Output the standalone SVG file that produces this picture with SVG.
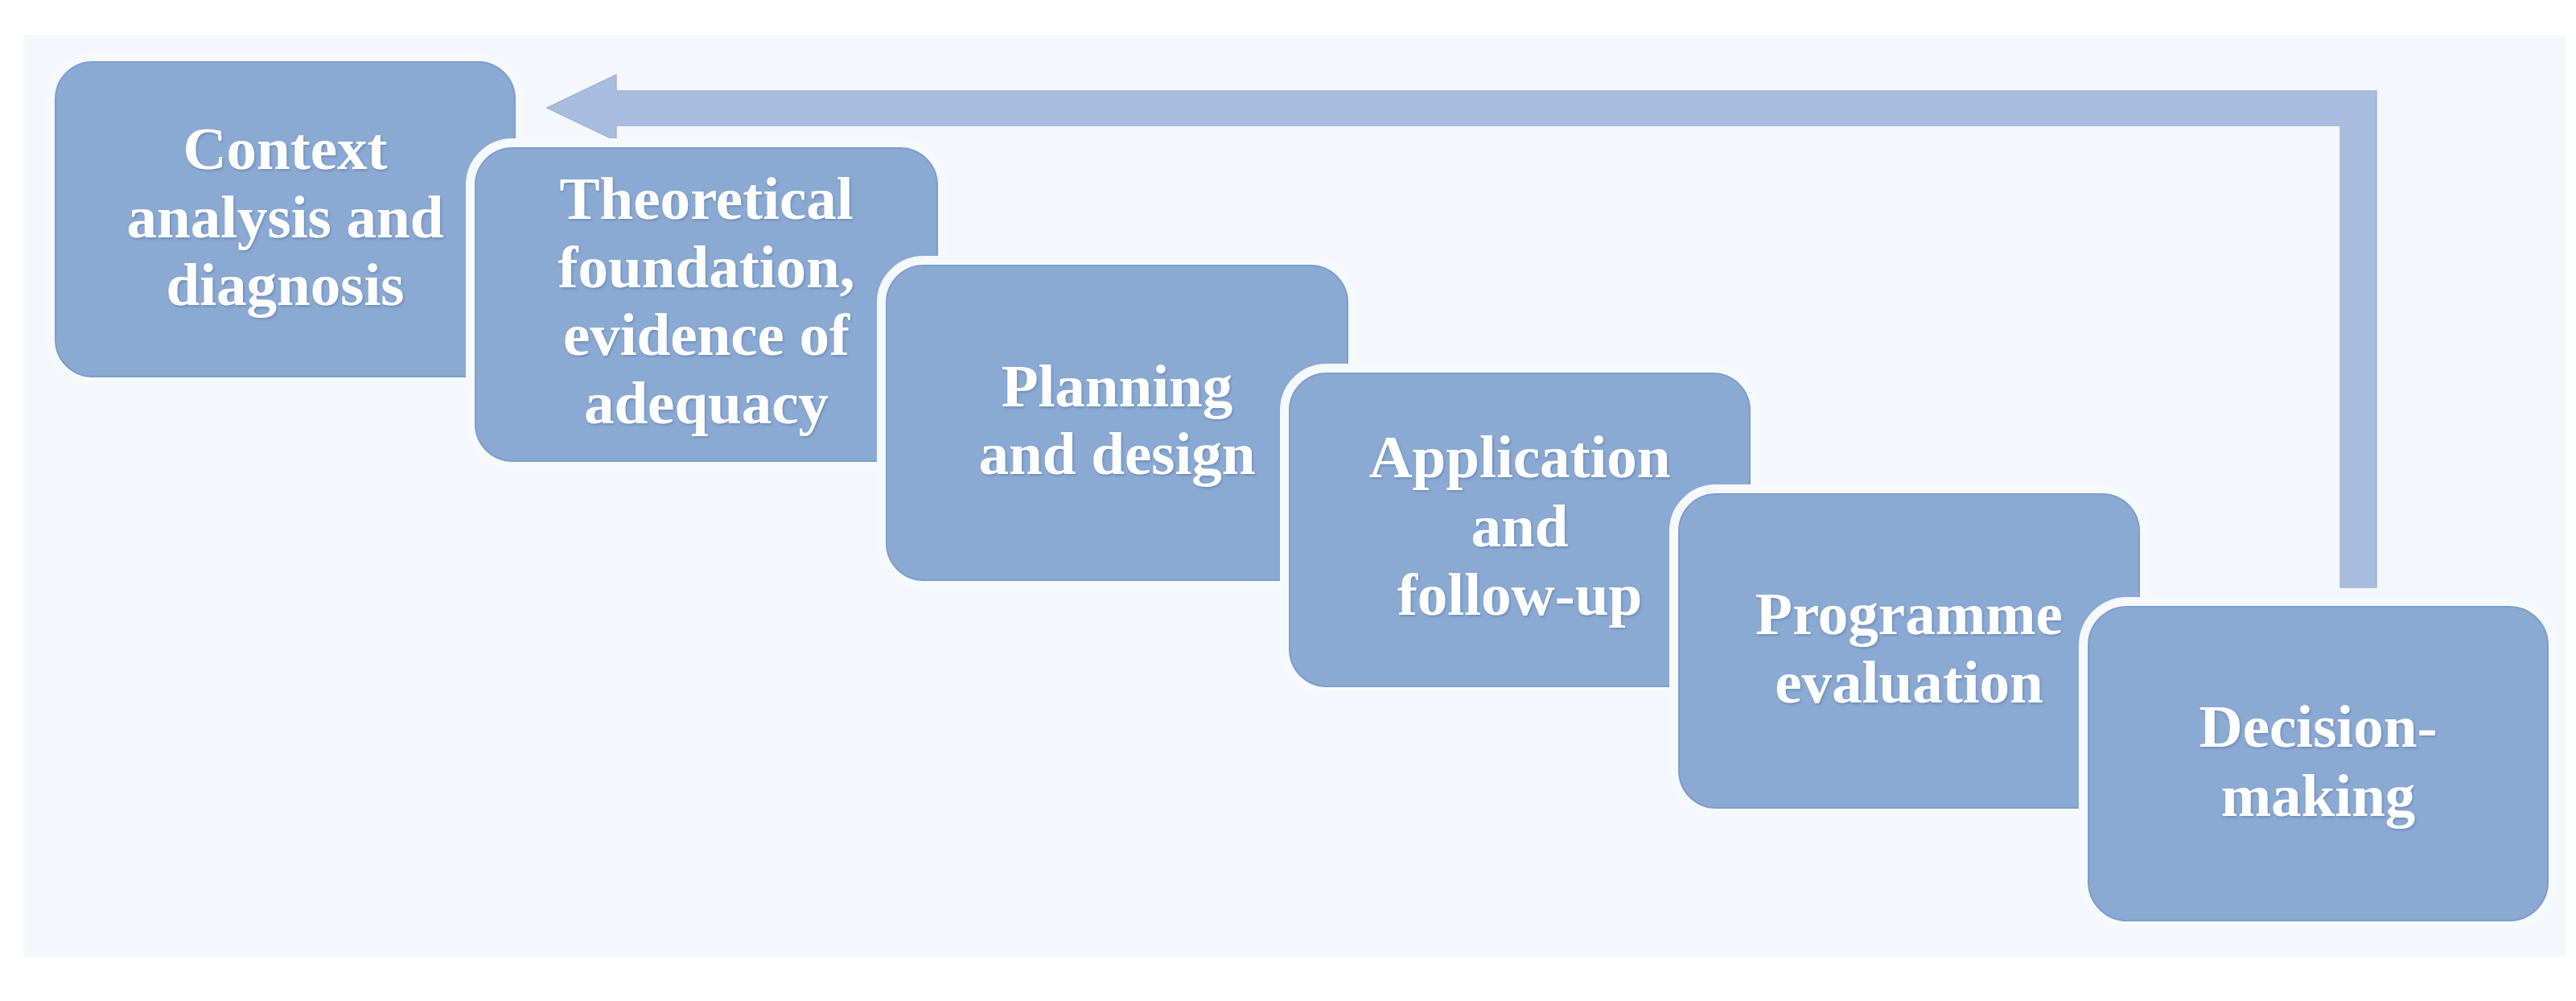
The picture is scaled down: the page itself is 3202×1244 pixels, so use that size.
<svg xmlns="http://www.w3.org/2000/svg" width="3202" height="1244" viewBox="0 0 3202 1244">
  <defs>
    <filter id="ts" x="-10%" y="-10%" width="120%" height="130%">
      <feDropShadow dx="1.5" dy="2" stdDeviation="1.5" flood-color="#3d5a85" flood-opacity="0.35"/>
    </filter>
  </defs>
  <style>
    .box { fill: #8aaad3; stroke: #f6f9fc; stroke-width: 24; paint-order: stroke; }
    .edge { fill: none; stroke: #7d9dcb; stroke-width: 2; }
    .lbl { font-family: "Liberation Serif", "Times New Roman", serif; font-weight: bold; font-size: 75px; fill: #ffffff; text-anchor: middle; filter: url(#ts); }
    .arrow { fill: #a8bddd; stroke: #9fb5d8; stroke-width: 1.5; }
  </style>
  <rect x="0" y="0" width="3202" height="1244" fill="#ffffff"/>
  <rect x="31" y="45" width="3157" height="1143" fill="#f4f7fb" stroke="#f7f8fa" stroke-width="4"/>

  <g id="connectors">
    <path class="arrow" d="M680,134 L766,93 L766,113 L2954,113 L2954,730 L2909,730 L2909,156 L766,156 L766,175 Z"/>
  </g>

  <g id="node1">
    <rect class="box" x="69" y="77" width="571" height="391" rx="46" ry="46"/>
    <rect class="edge" x="69" y="77" width="571" height="391" rx="46" ry="46"/>
    <text class="lbl" x="354.5" y="210">Context</text>
    <text class="lbl" x="354.5" y="295">analysis and</text>
    <text class="lbl" x="354.5" y="379">diagnosis</text>
  </g>

  <g id="node2">
    <rect class="box" x="591" y="184" width="574" height="389" rx="46" ry="46"/>
    <rect class="edge" x="591" y="184" width="574" height="389" rx="46" ry="46"/>
    <text class="lbl" x="878" y="272">Theoretical</text>
    <text class="lbl" x="878" y="357">foundation,</text>
    <text class="lbl" x="878" y="441">evidence of</text>
    <text class="lbl" x="878" y="526">adequacy</text>
  </g>

  <g id="node3">
    <rect class="box" x="1102" y="330" width="573" height="391" rx="46" ry="46"/>
    <rect class="edge" x="1102" y="330" width="573" height="391" rx="46" ry="46"/>
    <text class="lbl" x="1388.5" y="505">Planning</text>
    <text class="lbl" x="1388.5" y="589">and design</text>
  </g>

  <g id="node4">
    <rect class="box" x="1603" y="464" width="572" height="389" rx="46" ry="46"/>
    <rect class="edge" x="1603" y="464" width="572" height="389" rx="46" ry="46"/>
    <text class="lbl" x="1889" y="593">Application</text>
    <text class="lbl" x="1889" y="679">and</text>
    <text class="lbl" x="1889" y="764">follow-up</text>
  </g>

  <g id="node5">
    <rect class="box" x="2087" y="614" width="572" height="390" rx="46" ry="46"/>
    <rect class="edge" x="2087" y="614" width="572" height="390" rx="46" ry="46"/>
    <text class="lbl" x="2373" y="788">Programme</text>
    <text class="lbl" x="2373" y="873">evaluation</text>
  </g>

  <g id="node6">
    <rect class="box" x="2596" y="754" width="571" height="390" rx="48" ry="48"/>
    <rect class="edge" x="2596" y="754" width="571" height="390" rx="48" ry="48"/>
    <text class="lbl" x="2881.5" y="928">Decision-</text>
    <text class="lbl" x="2881.5" y="1014">making</text>
  </g>
</svg>
